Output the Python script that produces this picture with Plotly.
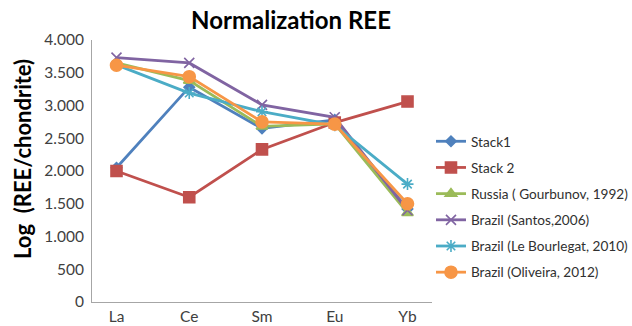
import plotly.graph_objects as go

# REE pattern, log-normalised to chondrite (axis uses "." as thousands separator)
elements = ["La", "Ce", "Sm", "Eu", "Yb"]

stack1 = [2050, 3280, 2650, 2780, 1420]
stack2 = [2000, 1600, 2330, 2740, 3060]
russia_gourbunov = [3650, 3380, 2680, 2720, 1360]
brazil_santos = [3730, 3650, 3010, 2820, 1400]
brazil_le_bourlegat = [3620, 3190, 2905, 2700, 1800]
brazil_oliveira = [3615, 3440, 2750, 2715, 1500]

y_ticks = [0, 500, 1000, 1500, 2000, 2500, 3000, 3500, 4000]

series = [
    ("Stack1", stack1, "#4F81BD", "diamond", 8),
    ("Stack 2", stack2, "#C0504D", "square", 11),
    ("Russia ( Gourbunov, 1992)", russia_gourbunov, "#9BBB59", "triangle-up", 10),
    ("Brazil (Santos,2006)", brazil_santos, "#8064A2", "x-thin-open", 10),
    ("Brazil (Le Bourlegat, 2010)", brazil_le_bourlegat, "#4BACC6", "asterisk-open", 10),
    ("Brazil (Oliveira, 2012)", brazil_oliveira, "#F79646", "circle", 12),
]

fig = go.Figure()
for i, (name, values, color, symbol, size) in enumerate(series):
    fig.add_trace(go.Scatter(
        x=elements, y=values, name=name, mode="lines+markers",
        legendgroup=f"g{i}",
        line=dict(color=color, width=2.8),
        marker=dict(symbol=symbol, size=size, color=color,
                    line=dict(color=color, width=1.6)),
    ))

font_family = "Lato, 'Open Sans', sans-serif"

fig.update_layout(
    width=632, height=326,
    separators=",.",
    paper_bgcolor="white", plot_bgcolor="white",
    margin=dict(l=92, r=200, t=40, b=24, autoexpand=False),
    font=dict(family=font_family, size=15, color="#404040"),
    title=dict(text="<b>Normalization REE</b>", x=291 / 632, xanchor="center",
               y=1 - 21 / 326, yanchor="middle",
               font=dict(family=font_family, size=24, color="black")),
    showlegend=True,
    legend=dict(x=0.997, xanchor="left", y=0.672, yanchor="top",
                traceorder="grouped", tracegroupgap=5.5,
                font=dict(family=font_family, size=13.6, color="#303030"),
                bgcolor="rgba(0,0,0,0)"),
    annotations=[dict(
        text="<b>Log  (REE/chondrite)</b>", textangle=-90,
        xref="paper", yref="paper", x=(22 - 92) / 340, y=(302 - 159) / 262,
        xanchor="center", yanchor="middle", showarrow=False,
        font=dict(family=font_family, size=22, color="black"),
    )],
)

fig.update_xaxes(
    type="category", showline=True, linecolor="#A6A6A6", linewidth=1,
    showgrid=False, ticks="", automargin=False,
    tickfont=dict(size=15.5, color="#404040"),
)
fig.update_yaxes(
    range=[0, 4000], tickvals=y_ticks, tickformat=",d",
    showline=True, linecolor="#A6A6A6", linewidth=1, showgrid=False,
    zeroline=False, ticks="", ticklabelstandoff=4, automargin=False,
    tickfont=dict(size=15.5, color="#404040"),
)

fig.write_html("out.html")
